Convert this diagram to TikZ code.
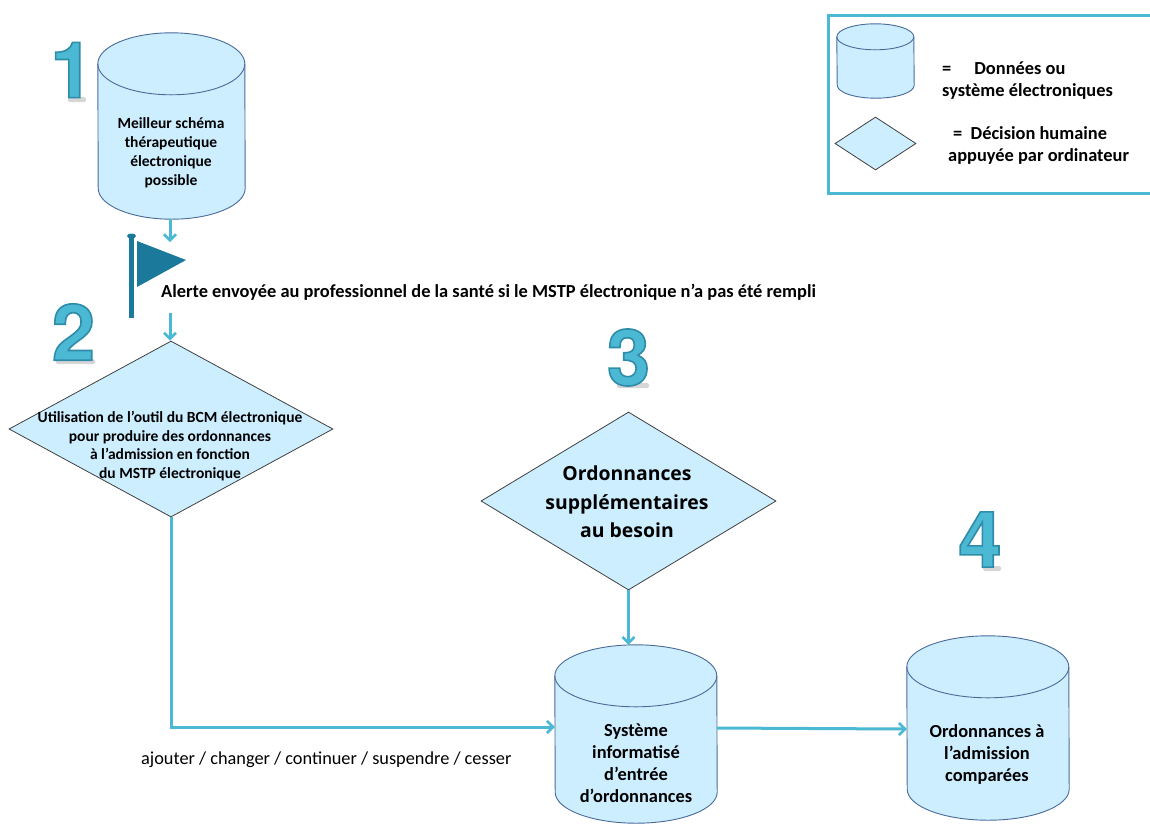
\documentclass[tikz,border=0pt]{standalone}
\usepackage{fontspec}
\setmainfont{Carlito}
\newfontfamily\numfont{TeX Gyre Heros}
\newfontfamily\headfont{Open Sans}
\usetikzlibrary{shapes.geometric,arrows.meta}
\definecolor{boxfill}{HTML}{CCEEFF}
\definecolor{linkblue}{HTML}{4BB8D4}
\definecolor{cylline}{HTML}{4A6A9A}
\definecolor{flagblue}{HTML}{1B7A9C}
\newcommand{\sz}[2]{\fontsize{#1}{#2}\selectfont}
\newcommand{\numtext}[1]{{\numfont\bfseries\sz{78}{78}\special{pdf:code 2 Tr 1.6 w 0.18 0.55 0.66 RG}#1\special{pdf:code 0 Tr 0 w}}}
% name, centre, half width, height, cap height
\newcommand{\datacyl}[5]{
  \node[inner sep=0pt,minimum width=2*#3 pt,minimum height=#4 pt] (#1) at (#2) {};
  \draw[cylstyle] ([yshift=-#5 pt]#1.north west) arc (180:0:#3pt and #5pt) -- ([yshift=#5 pt]#1.south east) arc (0:-180:#3pt and #5pt) -- cycle;
  \draw[cylstyle,fill=none] ([yshift=-#5 pt]#1.north west) arc (180:360:#3pt and #5pt);
}
\tikzset{
  cylstyle/.style={draw=cylline,fill=boxfill,line width=.9pt},
  decision/.style={diamond,draw=black!75,fill=boxfill,line width=.8pt,inner sep=0pt,aspect=1.7},
  link/.style={draw=linkblue,line width=3pt,-{Straight Barb[length=6pt,width=12pt,line width=2.6pt]}},
  numlabel/.style={inner sep=0pt,text=linkblue},
  numshade/.style={black,opacity=.16,rounded corners=1.5pt},
  txt/.style={inner sep=0pt,align=center,font=\bfseries\sz{18.4}{22}}
}
\begin{document}
\begin{tikzpicture}[x=1pt,y=-1pt]
\useasboundingbox (0,0) rectangle (1150,823);

\datacyl{best}{171.5,126}{73.5}{186}{31}
\node[decision,minimum width=324pt,minimum height=176pt] (bcm) at (171,429) {};
\node[decision,minimum width=295pt,minimum height=178pt] (extra) at (628.5,501) {};
\datacyl{system}{636,734}{81}{178}{31}
\datacyl{compared}{988,728}{81}{184}{31}

\node[txt,font=\bfseries\sz{15.5}{19}] (besttext) at (171,153) {Meilleur sch\'ema\\th\'erapeutique\\\'electronique\\possible};
\node[txt] (systemtext) at (636,763) {Syst\`eme\\informatis\'e\\d'entr\'ee\\d'ordonnances};
\node[txt] (comparedtext) at (987,754) {Ordonnances \`a\\l'admission\\compar\'ees};
\node[txt,font=\bfseries\sz{15.5}{18.5}] (bcmtext) at (170,446) {Utilisation de l'outil du BCM \'electronique\\pour produire des ordonnances\\\`a l'admission en fonction\\du MSTP \'electronique};
\node[txt,font=\headfont\bfseries\sz{19.4}{28.5}] (extratext) at (627,502) {Ordonnances\\suppl\'ementaires\\au besoin};

\draw[flagblue,line width=5pt] (131.5,236) -- (131.5,318);
\fill[flagblue] (131.5,236) ellipse (4.5pt and 2.5pt);
\fill[flagblue] (137,241) -- (186,260) -- (137,287) -- cycle;
\coordinate (flagtop) at (170,242);
\coordinate (flagbot) at (170,313);
\node[txt,anchor=west] (alert) at (161,292) {Alerte envoy\'ee au professionnel de la sant\'e si le MSTP \'electronique n'a pas \'et\'e rempli};

\draw[link] (flagtop |- best.south) -- (flagtop);
\draw[link] (flagbot) -- (flagbot |- bcm.north);
\draw[link] (bcm.south) |- ([yshift=7pt]system.west);
\draw[link] (extra.south) -- (extra.south |- system.north);
\draw[link] ([yshift=6pt]system.east) -- ([yshift=-1pt]compared.west);

\node[inner sep=0pt,font=\sz{18.3}{22},anchor=west] (actions) at (141,760) {ajouter / changer / continuer / suspendre / cesser};

\fill[numshade] (68,97) rectangle (86,102);
\fill[numshade] (56,359) rectangle (95,364);
\fill[numshade] (617,383) rectangle (649,388);
\fill[numshade] (983,566) rectangle (1001,571);
\foreach \name/\num/\px/\py in {one/1/72/70,two/2/73.5/332,three/3/628.5/357.5,four/4/980/539.5}{
  \node[numlabel] (\name) at (\px,\py) {\numtext{\num}};
}

\draw[linkblue,line width=3pt] (1150,15) -- (828,15) -- (828,193) -- (1150,193);
\datacyl{legcyl}{875.5,61}{38.5}{74}{13}
\node[decision,minimum width=81pt,minimum height=53pt] (legdiam) at (875.5,143.5) {};
\node[txt,anchor=west,align=left] (legdata) at (942,81) {=\hspace{23pt}Donn\'ees ou\\syst\`eme \'electroniques};
\node[txt,anchor=west,align=left] (legdec) at (948,145) {\hspace*{5pt}=\ \ D\'ecision humaine\\appuy\'ee par ordinateur};
\end{tikzpicture}
\end{document}
